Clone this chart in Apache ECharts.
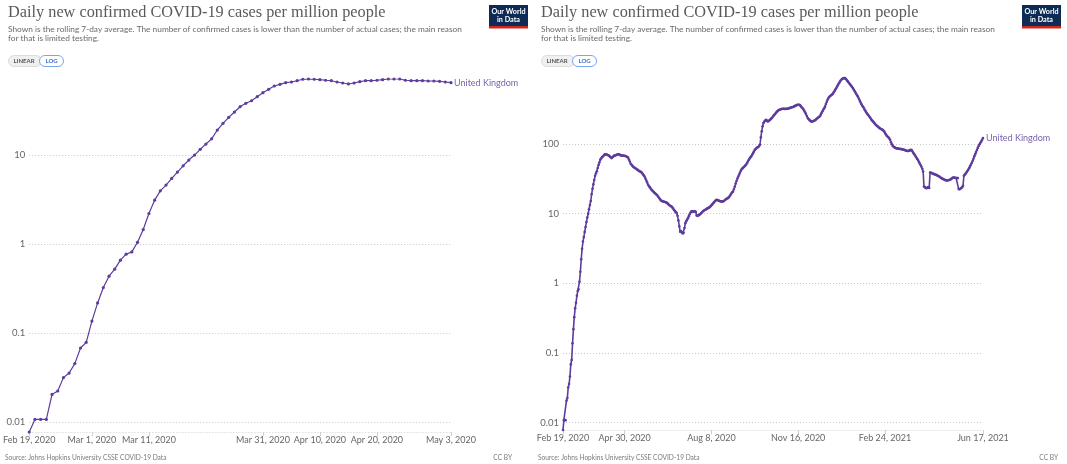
<!DOCTYPE html>
<html>
<head>
<meta charset="utf-8">
<script src="https://cdn.jsdelivr.net/npm/echarts@6/dist/echarts.min.js"></script>
<style>
  html, body { margin: 0; padding: 0; background: #fff; }
  #chart { width: 1067px; height: 464px; }
</style>
</head>
<body>
<div id="chart"></div>
<script>
// Daily new confirmed COVID-19 cases per million people, United Kingdom (7-day rolling average)
const START_DATE = '2020-02-19';
const SERIES_NAME = 'United Kingdom';

// Feb 19, 2020 .. May 3, 2020 (one value per day)
const ukEarly = [
  0.0078, 0.0108, 0.0108, 0.0108, 0.0206, 0.0225, 0.0318, 0.0358, 0.0457, 0.0684,
  0.0792, 0.137, 0.219, 0.326, 0.437, 0.524, 0.661, 0.772, 0.819, 1.05,
  1.46, 2.21, 3.12, 3.97, 4.60, 5.47, 6.44, 7.58, 8.79, 10.0,
  11.6, 13.3, 15.2, 19.1, 22.7, 26.5, 30.4, 34.9, 38.1, 40.7,
  45.2, 50.1, 54.7, 59.6, 62.2, 64.9, 66.1, 68.3, 70.9, 71.4,
  70.9, 70.2, 69.1, 68.3, 66.1, 64.4, 62.8, 64.4, 66.7, 68.3,
  68.3, 69.1, 70.2, 71.4, 71.4, 71.4, 69.1, 68.3, 68.3, 68.3,
  67.8, 67.8, 67.3, 66.1, 64.9
];

// May 4, 2020 .. Jun 17, 2021 (one value per day)
const ukLater = [
  64, 60, 56, 52, 50.4, 48.5, 47, 46, 45.2, 44.5,
  43.5, 42.5, 41.5, 40.8, 40.4, 39.5, 38.5, 37, 35.5, 34.2,
  32, 30, 28, 26, 25, 24, 23, 22, 21.4, 20.8,
  20.2, 19.6, 19.1, 18.7, 18, 17.3, 16.6, 16, 15.5, 15.2,
  15, 14.9, 14.8, 14.6, 14.5, 14.2, 13.8, 13.4, 13.1, 12.9,
  12.7, 12.3, 11.8, 11.3, 10.9, 10.5, 10.2, 9.3, 8.0, 6.6,
  5.5, 5.6, 5.4, 5.2, 5.3, 6.2, 7.3, 7.8, 8.2, 8.6,
  9.2, 9.8, 10.4, 10.8, 10.8, 10.7, 10.8, 10.8, 10.6, 9.4,
  9.3, 9.4, 9.6, 9.8, 10.1, 10.4, 10.7, 11, 11.2, 11.4,
  11.6, 11.8, 12, 12.2, 12.4, 12.8, 13.2, 13.6, 14.1, 14.6,
  15.1, 15.6, 15.8, 15.7, 15.5, 15.3, 15.1, 15, 15, 15,
  15.1, 15.4, 15.8, 16.2, 16.5, 16.7, 17.2, 17.8, 18.6, 19.5,
  20.3, 20.8, 22.5, 24.5, 27, 29.5, 32, 34.2, 36.5, 39,
  41.5, 43.7, 45, 46.2, 47.5, 49, 50.5, 53, 56, 59,
  62, 64.5, 66.4, 70, 74, 78, 82.8, 85, 87.5, 89.5,
  90.6, 94, 97.7, 125, 152, 180, 200, 210, 217, 223,
  217, 211, 214, 220, 226, 232, 238, 249, 258, 267,
  277, 287, 296, 304, 308, 312, 316, 319, 321, 321,
  320, 319, 320, 321, 321, 324, 328, 332, 336, 338,
  340, 345, 350, 356, 361, 365, 367, 366, 362, 352,
  338, 329, 315, 300, 285, 270, 252, 236, 228, 221,
  215, 211, 210, 212, 215, 218, 222, 228, 234, 240,
  245, 250, 264, 280, 296, 312, 326, 345, 375, 405,
  435, 460, 478, 490, 503, 515, 526, 552, 580, 610,
  638, 675, 710, 748, 785, 818, 845, 865, 880, 888,
  885, 860, 830, 800, 770, 742, 714, 688, 662, 638,
  608, 578, 550, 522, 497, 475, 447, 420, 395, 372,
  352, 340, 322, 306, 292, 278, 268, 258, 248, 238,
  228, 219, 213, 206, 198, 192, 186, 181, 178, 173,
  169, 166, 163, 161, 158, 152, 145, 138, 132, 128,
  125, 120, 114, 106, 99, 94, 91.5, 89.5, 88, 87,
  86.3, 85.8, 85.5, 85.2, 84.8, 84.4, 84, 83.6, 82.8, 81.8,
  80.8, 80, 79.5, 79.4, 80.5, 81.8, 82.8, 81, 77.5, 73.5,
  70.5, 68, 64.5, 61.5, 59.4, 56, 53, 50, 47.6, 44,
  40.4, 24.6, 24, 23.3, 23.2, 23.8, 24, 23.3, 39, 38.6,
  38.2, 37.6, 37.2, 36.8, 36.4, 36, 35.6, 35.1, 34.5, 33.8,
  33.1, 32.4, 31.8, 31.4, 31, 30.6, 30.2, 30, 30, 30.2,
  30.5, 30.7, 31.3, 32, 32.7, 33.1, 33.1, 32.8, 32.5, 32.4,
  32.4, 22.5, 22.4, 22.8, 23.3, 24, 25.2, 35.1, 36.3, 37.6,
  39.2, 41, 42.8, 45, 47.7, 50.5, 53.3, 57, 61.5, 66.5,
  71.5, 76.5, 82, 88, 93.5, 99, 104, 109, 115, 122
];

// Date ticks on each x axis
const leftTickDates = ['2020-02-19', '2020-03-01', '2020-03-11', '2020-03-31', '2020-04-10', '2020-04-20', '2020-05-03'];
const rightTickDates = ['2020-02-19', '2020-04-30', '2020-08-08', '2020-11-16', '2021-02-24', '2021-06-17'];

const TITLE = 'Daily new confirmed COVID-19 cases per million people';
const SUBTITLE_LINES = [
  'Shown is the rolling 7-day average. The number of confirmed cases is lower than the number of actual cases; the main reason',
  'for that is limited testing.'
];
const SOURCE = 'Source: Johns Hopkins University CSSE COVID-19 Data';
const LICENSE = 'CC BY';

// ---- helpers ----
const DAY = 86400000;
const MONTHS = ['Jan', 'Feb', 'Mar', 'Apr', 'May', 'Jun', 'Jul', 'Aug', 'Sep', 'Oct', 'Nov', 'Dec'];
const startMs = Date.parse(START_DATE + 'T00:00:00Z');
const dayIndex = s => Math.round((Date.parse(s + 'T00:00:00Z') - startMs) / DAY);
const dayLabel = d => {
  const dt = new Date(startMs + Math.round(d) * DAY);
  return MONTHS[dt.getUTCMonth()] + ' ' + dt.getUTCDate() + ', ' + dt.getUTCFullYear();
};
const logLabel = v => {
  const l = Math.log10(v);
  if (Math.abs(l - Math.round(l)) > 1e-6) return '';
  return String(+Math.pow(10, Math.round(l)).toPrecision(6));
};

const ukAll = ukEarly.concat(ukLater);
const leftData = ukEarly.map((v, i) => [i, v]);
const rightData = ukAll.map((v, i) => [i, v]);

const LINE_COLOR = '#5d3c9c';
const LABEL_COLOR = '#7a63ae';
const AXIS_TEXT = '#666';
const SANS = 'Lato, "Noto Sans", sans-serif';
const DOTS = [1, 2];

function xAxisFor(gridIndex, ticks, maxDay) {
  const vals = ticks.map(dayIndex);
  return {
    type: 'value', gridIndex, min: 0, max: maxDay,
    splitLine: { show: false },
    axisLine: { show: true, lineStyle: { color: '#e2e2e2', type: DOTS, width: 1 } },
    axisTick: { show: true, customValues: vals, length: 4, lineStyle: { color: '#cfcfcf' } },
    axisLabel: {
      customValues: vals, formatter: dayLabel, color: AXIS_TEXT,
      fontSize: 9, fontFamily: SANS, margin: 4, hideOverlap: false
    }
  };
}

function yAxisFor(gridIndex) {
  return {
    type: 'log', logBase: 10, gridIndex, min: 'dataMin', max: 'dataMax',
    axisLine: { show: false }, axisTick: { show: false },
    splitLine: { show: true, showMinLine: false, showMaxLine: false, lineStyle: { color: '#c8c8c8', type: DOTS, width: 1 } },
    axisLabel: { formatter: logLabel, color: AXIS_TEXT, fontSize: 9.5, fontFamily: SANS, margin: 4, showMinLabel: false, showMaxLabel: false }
  };
}

function seriesFor(idx, data, symbolSize, lineWidth) {
  return {
    type: 'line', name: SERIES_NAME, xAxisIndex: idx, yAxisIndex: idx, data,
    symbol: 'circle', symbolSize, showSymbol: true,
    itemStyle: { color: LINE_COLOR }, lineStyle: { color: LINE_COLOR, width: lineWidth },
    endLabel: { show: true, formatter: SERIES_NAME, color: LABEL_COLOR, fontSize: 9, fontFamily: SANS, distance: 3 },
    emphasis: { disabled: true }, silent: true
  };
}

// Header, buttons, logo and footer for one panel, shifted by ox
function panelDecor(ox, logoX, ccRight) {
  const g = [];
  g.push({ type: 'text', x: ox + 8, y: 13, style: { text: TITLE, font: '16.3px "Liberation Serif", serif', fill: '#5a5a5a', textVerticalAlign: 'middle' } });
  SUBTITLE_LINES.forEach((t, i) => {
    g.push({ type: 'text', x: ox + 8, y: 29 + i * 9.5, style: { text: t, font: '8.3px ' + SANS, fill: '#6a6a6a', textVerticalAlign: 'middle' } });
  });
  // LINEAR / LOG toggle
  g.push({ type: 'rect', shape: { x: ox + 8.5, y: 55.5, width: 33, height: 11, r: 5.5 }, style: { fill: '#f0f0f0', stroke: '#dcdcdc', lineWidth: 1 } });
  g.push({ type: 'rect', shape: { x: ox + 39.5, y: 55.5, width: 24, height: 11, r: 5.5 }, style: { fill: '#fff', stroke: '#7aa6ef', lineWidth: 1 } });
  g.push({ type: 'text', x: ox + 24, y: 61, style: { text: 'LINEAR', font: 'bold 6px ' + SANS, fill: '#555', textAlign: 'center', textVerticalAlign: 'middle' } });
  g.push({ type: 'text', x: ox + 51.5, y: 61, style: { text: 'LOG', font: 'bold 6px ' + SANS, fill: '#3b6fd1', textAlign: 'center', textVerticalAlign: 'middle' } });
  // logo block
  g.push({ type: 'rect', shape: { x: logoX, y: 5, width: 39, height: 22 }, style: { fill: '#0d2b55' } });
  g.push({ type: 'rect', shape: { x: logoX, y: 26, width: 39, height: 2.5 }, style: { fill: '#ce261e' } });
  g.push({ type: 'text', x: logoX + 19.5, y: 11.5, style: { text: 'Our World', font: 'bold 7.2px ' + SANS, fill: '#fff', textAlign: 'center', textVerticalAlign: 'middle' } });
  g.push({ type: 'text', x: logoX + 19.5, y: 20, style: { text: 'in Data', font: 'bold 7.2px ' + SANS, fill: '#fff', textAlign: 'center', textVerticalAlign: 'middle' } });
  // footer
  g.push({ type: 'text', x: ox + 5, y: 458, style: { text: SOURCE, font: '6.6px ' + SANS, fill: '#7a7a7a', textVerticalAlign: 'middle' } });
  g.push({ type: 'text', x: ccRight, y: 458, style: { text: LICENSE, font: '6.6px ' + SANS, fill: '#7a7a7a', textAlign: 'right', textVerticalAlign: 'middle' } });
  return g;
}

const chart = echarts.init(document.getElementById('chart'), null, { renderer: 'canvas' });
chart.setOption({
  animation: false,
  backgroundColor: '#fff',
  grid: [
    { left: 29, top: 79, width: 422, height: 353 },
    { left: 563, top: 78, width: 420, height: 352 }
  ],
  xAxis: [
    xAxisFor(0, leftTickDates, ukEarly.length - 1),
    xAxisFor(1, rightTickDates, ukAll.length - 1)
  ],
  yAxis: [yAxisFor(0), yAxisFor(1)],
  series: [
    seriesFor(0, leftData, 3.2, 1.2),
    seriesFor(1, rightData, 2.6, 1.6)
  ],
  graphic: panelDecor(0, 489, 512).concat(panelDecor(533, 1022, 1058))
});
</script>
</body>
</html>
